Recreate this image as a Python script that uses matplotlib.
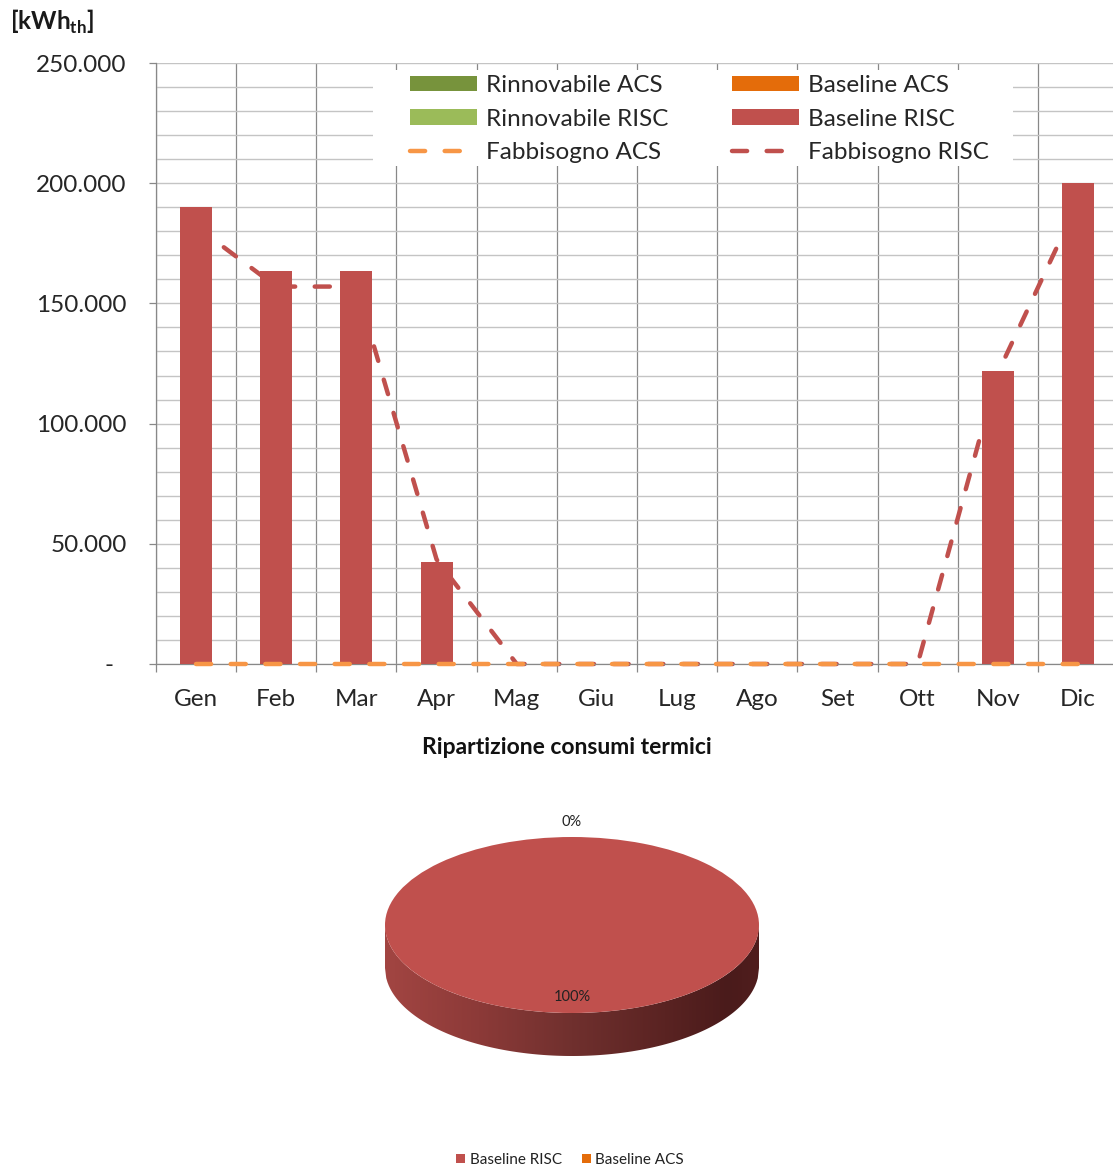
import numpy as np
import matplotlib
matplotlib.use("Agg")
import matplotlib.pyplot as plt
from matplotlib.patches import Rectangle, Patch, Polygon
from matplotlib.lines import Line2D
from matplotlib.ticker import MultipleLocator, FixedLocator, FuncFormatter
from matplotlib.colors import LinearSegmentedColormap

plt.rcParams["font.family"] = ["Lato", "DejaVu Sans"]
plt.rcParams["mathtext.fontset"] = "custom"
plt.rcParams["mathtext.bf"] = "Lato:bold"
plt.rcParams["mathtext.rm"] = "Lato"

# ---- monthly thermal consumption data [kWh_th] ----
months = ["Gen", "Feb", "Mar", "Apr", "Mag", "Giu", "Lug", "Ago", "Set", "Ott", "Nov", "Dic"]
rinnovabile_acs = [0, 0, 0, 0, 0, 0, 0, 0, 0, 0, 0, 0]
rinnovabile_risc = [0, 0, 0, 0, 0, 0, 0, 0, 0, 0, 0, 0]
baseline_acs = [0, 0, 0, 0, 0, 0, 0, 0, 0, 0, 0, 0]
baseline_risc = [190000, 163500, 163500, 42500, 0, 0, 0, 0, 0, 0, 122000, 200000]
fabbisogno_acs = [0, 0, 0, 0, 0, 0, 0, 0, 0, 0, 0, 0]
fabbisogno_risc = [182000, 157000, 157000, 43500, 0, 0, 0, 0, 0, 0, 121000, 192000]

pie_labels = ["Baseline RISC", "Baseline ACS"]

C_RIN_ACS = "#77933C"
C_RIN_RISC = "#9BBB59"
C_BASE_ACS = "#E46C0A"
C_BASE_RISC = "#C0504D"
C_FAB_ACS = "#F79646"
C_FAB_RISC = "#C0504D"
GRID_H = "#C4C4C4"
GRID_V = "#888888"
TXT = "#262626"
FS = 17.5

W, H = 1113, 1167
fig = plt.figure(figsize=(W / 100, H / 100), dpi=100)


def fx(px):
    return px / W


def fy(py):
    return 1 - py / H


# ---- monthly column chart ----
ax = fig.add_axes([fx(156), fy(664), (1118 - 156) / W, (664 - 63) / H])
x = np.arange(len(months))

ax.set_xlim(-0.5, len(months) - 0.5)
ax.set_ylim(0, 250000)
ax.set_axisbelow(True)

ax.yaxis.set_major_locator(MultipleLocator(50000))
ax.yaxis.set_minor_locator(MultipleLocator(10000))
ax.yaxis.set_major_formatter(FuncFormatter(
    lambda v, p: "-  " if v == 0 else f"{int(v):,}".replace(",", ".")))
ax.grid(which="both", axis="y", color=GRID_H, lw=1.0)

ax.set_xticks(x)
ax.set_xticklabels(months)
ax.xaxis.set_minor_locator(FixedLocator(np.arange(-0.5, len(months), 1.0)))
ax.grid(which="minor", axis="x", color=GRID_V, lw=0.9)

ax.tick_params(axis="x", which="major", length=0, pad=18, labelsize=FS, labelcolor=TXT)
ax.tick_params(axis="x", which="minor", length=6, width=0.9, color=GRID_V, direction="out")
ax.tick_params(axis="y", which="major", length=5, width=0.9, color=GRID_V, pad=16,
               labelsize=FS, labelcolor=TXT)
ax.tick_params(axis="y", which="minor", length=0)

for s in ("top", "right"):
    ax.spines[s].set_visible(False)
for s in ("left", "bottom"):
    ax.spines[s].set_color(GRID_V)
    ax.spines[s].set_linewidth(0.9)

bw = 0.4
b1 = np.array(baseline_risc)
b2 = b1 + np.array(baseline_acs)
b3 = b2 + np.array(rinnovabile_risc)
ax.bar(x, baseline_risc, width=bw, color=C_BASE_RISC, zorder=3)
ax.bar(x, baseline_acs, width=bw, bottom=b1, color=C_BASE_ACS, zorder=3)
ax.bar(x, rinnovabile_risc, width=bw, bottom=b2, color=C_RIN_RISC, zorder=3)
ax.bar(x, rinnovabile_acs, width=bw, bottom=b3, color=C_RIN_ACS, zorder=3)

dash_lw = 3.2
dash = (0, (3.4, 4.4))
ax.plot(x, fabbisogno_risc, color=C_FAB_RISC, lw=dash_lw, ls=dash,
        dash_capstyle="round", zorder=2.5, clip_on=False)
ax.plot(x, fabbisogno_acs, color=C_FAB_ACS, lw=dash_lw, ls=dash,
        dash_capstyle="round", zorder=4, clip_on=False)

# legend box over the grid
ax.add_patch(Rectangle((fx(373), fy(166)), 640 / W, 96 / H, transform=fig.transFigure,
                       facecolor="white", edgecolor="none", zorder=5, clip_on=False))

handles = [
    Patch(facecolor=C_RIN_ACS),
    Patch(facecolor=C_RIN_RISC),
    Line2D([], [], color=C_FAB_ACS, lw=dash_lw, ls=dash, dash_capstyle="round"),
    Patch(facecolor=C_BASE_ACS),
    Patch(facecolor=C_BASE_RISC),
    Line2D([], [], color=C_FAB_RISC, lw=dash_lw, ls=dash, dash_capstyle="round"),
]
labels = ["Rinnovabile ACS", "Rinnovabile RISC", "Fabbisogno ACS",
          "Baseline ACS", "Baseline RISC", "Fabbisogno RISC"]
leg = ax.legend(handles, labels, ncol=2, loc="upper left",
                bbox_to_anchor=(fx(410), fy(75)), bbox_transform=fig.transFigure,
                frameon=False, borderpad=0, borderaxespad=0, fontsize=FS,
                handlelength=2.77, handleheight=0.62, handletextpad=0.37,
                columnspacing=2.6, labelspacing=0.52, labelcolor=TXT)
leg.set_zorder(6)

fig.text(fx(10), fy(22), r"[kWh$_{\mathbf{th}}$]", fontsize=17.5, fontweight="bold",
         color="#1a1a1a", ha="left", va="center")

fig.text(fx(567), fy(748), "Ripartizione consumi termici", fontsize=16.5,
         fontweight="bold", color="#111111", ha="center", va="center")

# ---- 3D-style pie of annual shares ----
pie_values = [sum(baseline_risc), sum(baseline_acs)]
total = sum(pie_values)

pax = fig.add_axes([fx(370), fy(1070), 405 / W, 270 / H])
pax.axis("off")

depth = 43 / 88.0
xs = np.linspace(-1, 1, 300)
top = -np.sqrt(np.clip(1 - xs ** 2, 0, None))
verts = np.concatenate([np.column_stack([xs, top]),
                        np.column_stack([xs[::-1], top[::-1] - depth])])
side = Polygon(verts, closed=True, facecolor="none", edgecolor="none",
               transform=pax.transData)
pax.add_patch(side)
side_cmap = LinearSegmentedColormap.from_list(
    "side", [(0.0, "#A24542"), (0.25, "#8C3A38"), (0.5, "#70302E"),
             (0.75, "#5A2322"), (0.92, "#4A1B1B"), (1.0, "#501D1D")])
grad = np.linspace(0, 1, 400)[None, :]
im = pax.imshow(grad, cmap=side_cmap, extent=[-1, 1, -1 - depth, 0], aspect="auto",
                interpolation="bilinear", zorder=0)
im.set_clip_path(side)

wedges, _ = pax.pie(pie_values, colors=[C_BASE_RISC, C_BASE_ACS], startangle=90,
                    counterclock=False, radius=1, wedgeprops=dict(linewidth=0))
for w in wedges:
    w.set_zorder(2)
pax.set_aspect("auto")
pax.set_xlim((370 - 572) / 187, (775 - 572) / 187)
pax.set_ylim((925 - 1070) / 88, (925 - 800) / 88)

for w, v in zip(wedges, pie_values):
    frac = v / total
    ang = np.deg2rad((w.theta1 + w.theta2) / 2)
    r = 0.82 if frac > 0.05 else 1.17
    pax.text(r * np.cos(ang), r * np.sin(ang), f"{frac * 100:.0f}%", fontsize=10.5,
             color="#222222", ha="center", va="center", zorder=3)

pleg = pax.legend([Patch(facecolor=C_BASE_RISC), Patch(facecolor=C_BASE_ACS)], pie_labels,
                  ncol=2, loc="center", bbox_to_anchor=(fx(570), fy(1160)),
                  bbox_transform=fig.transFigure, frameon=False, fontsize=11,
                  handlelength=0.6, handleheight=0.6, handletextpad=0.3,
                  columnspacing=1.3, borderaxespad=0, labelcolor="#222222")

fig.savefig("out.png", dpi=100)
